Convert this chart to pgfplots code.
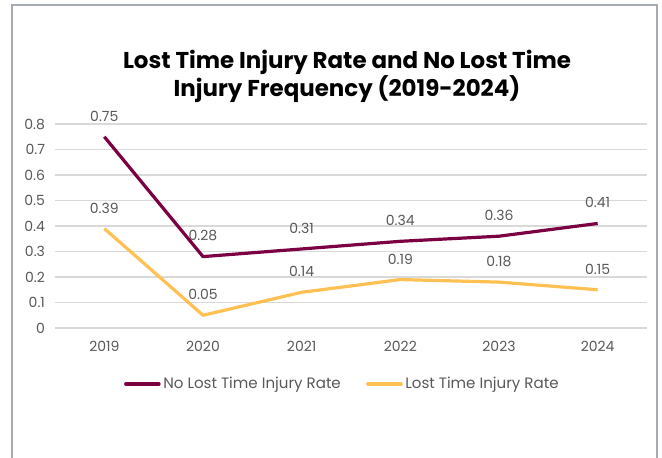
\documentclass[border=0pt]{standalone}
\usepackage{fontspec}
\setmainfont{Poppins}
\usepackage{pgfplots}
\pgfplotsset{compat=1.18}
\definecolor{maroon}{RGB}{123,0,65}
\definecolor{amber}{RGB}{255,192,84}
\definecolor{txtgray}{RGB}{89,89,89}
\definecolor{gridgray}{RGB}{217,217,217}
\definecolor{framegray}{RGB}{166,171,179}
\begin{document}
\begin{tikzpicture}[x=0.75pt,y=-0.75pt]
\clip (0,0) rectangle (662,458);
\fill[white] (0,0) rectangle (662,458);
\draw[framegray,line width=1.1pt] (12,470) -- (12,5) -- (657,5) -- (657,470);
\node[font=\bfseries\fontsize{17.2}{21}\selectfont,align=center,text=black]
  at (347,76) {Lost Time Injury Rate and No Lost Time\\Injury Frequency (2019-2024)};
\begin{axis}[
  at={(41.25pt,-246pt)}, anchor=south west,
  scale only axis, width=444pt, height=153pt,
  xmin=-0.5, xmax=5.5, ymin=0, ymax=0.8,
  xtick={0,...,5}, xticklabels={2019,2020,2021,2022,2023,2024},
  ytick={0,0.1,...,0.8},
  yticklabels={0,0.1,0.2,0.3,0.4,0.5,0.6,0.7,0.8},
  axis line style={draw=none},
  tick style={draw=none},
  ymajorgrids, grid style={gridgray,line width=0.8pt},
  ticklabel style={font=\fontsize{10.5}{12}\selectfont,text=txtgray},
  yticklabel style={xshift=-4pt},
  xticklabel style={yshift=-6pt},
  /pgf/number format/assume math mode=true,
  legend columns=2,
  legend style={at={(0.486,-0.2745)},anchor=center,draw=none,fill=none,
    font=\fontsize{11.3}{13}\selectfont,text=txtgray,
    /tikz/every even column/.append style={column sep=17pt}},
  legend image code/.code={\draw[#1,line width=2.4pt,line cap=round] (-5pt,0pt) -- (20pt,0pt);},
  nodes near coords,
  nodes near coords style={font=\fontsize{10.5}{12}\selectfont,text=txtgray,anchor=south,yshift=7pt},
  point meta=explicit symbolic,
]
\addplot[maroon,line width=2.4pt,line join=round,mark=none] coordinates {
  (0,0.75) [0.75] (1,0.28) [0.28] (2,0.31) [0.31] (3,0.34) [0.34] (4,0.36) [0.36] (5,0.41) [0.41]};
\addlegendentry{No Lost Time Injury Rate}
\addplot[amber,line width=2.4pt,line join=round,mark=none] coordinates {
  (0,0.39) [0.39] (1,0.05) [0.05] (2,0.14) [0.14] (3,0.19) [0.19] (4,0.18) [0.18] (5,0.15) [0.15]};
\addlegendentry{Lost Time Injury Rate}
\end{axis}
\end{tikzpicture}
\end{document}
